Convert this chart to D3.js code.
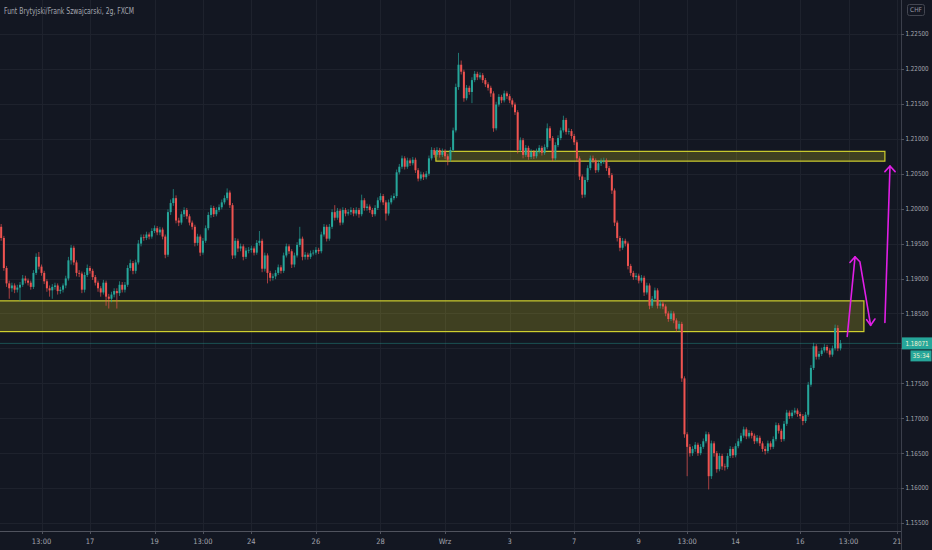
<!DOCTYPE html>
<html>
<head>
<meta charset="utf-8">
<script src="https://cdn.jsdelivr.net/npm/d3@7"></script>
<style>
  html, body { margin: 0; padding: 0; background: #131722; }
  svg { display: block; }
  text { font-family: "Liberation Sans Narrow", "DejaVu Sans Condensed", "Roboto", sans-serif; }
</style>
</head>
<body>
<div id="chart"></div>
<script>
// GBP/CHF 2h candles, 12 Aug - 18 Sep (FXCM). open of each bar = previous close
const firstBar = 3;
const firstOpen = 1.1974;

const closes = [
  1.1958,1.1915,1.1893,1.1886,1.1890,1.1884,1.1887,1.1891,1.1900,1.1897,
  1.1894,1.1888,1.1908,1.1931,1.1917,1.1908,1.1896,1.1886,1.1883,1.1888,
  1.1890,1.1882,1.1884,1.1890,1.1900,1.1926,1.1944,1.1923,1.1908,1.1907,
  1.1884,1.1905,1.1915,1.1911,1.1902,1.1894,1.1886,1.1880,1.1894,1.1874,
  1.1871,1.1877,1.1882,1.1879,1.1891,1.1884,1.1891,1.1915,1.1922,1.1911,
  1.1923,1.1950,1.1959,1.1958,1.1963,1.1960,1.1968,1.1972,1.1966,1.1970,
  1.1960,1.1934,1.1995,1.2008,1.2015,1.1983,1.1980,1.1992,1.1998,1.1989,
  1.1980,1.1974,1.1951,1.1960,1.1937,1.1954,1.1972,1.1991,1.2001,1.1992,
  1.1998,1.2002,1.2009,1.2015,1.2023,1.2005,1.1933,1.1954,1.1943,1.1946,
  1.1931,1.1940,1.1941,1.1943,1.1937,1.1951,1.1954,1.1914,1.1933,1.1908,
  1.1901,1.1903,1.1908,1.1916,1.1911,1.1933,1.1946,1.1939,1.1920,1.1933,
  1.1948,1.1957,1.1931,1.1934,1.1931,1.1936,1.1937,1.1941,1.1939,1.1963,
  1.1974,1.1957,1.1974,1.1995,1.1987,1.1997,1.1980,1.1998,1.1993,1.1995,
  1.1998,1.1993,1.1998,1.1992,1.2012,1.2001,1.2003,1.1998,1.1992,1.2001,
  1.2012,1.2018,1.2009,1.1993,1.2009,1.2015,1.2018,1.2052,1.2060,1.2072,
  1.2060,1.2069,1.2065,1.2070,1.2055,1.2043,1.2049,1.2045,1.2050,1.2072,
  1.2084,1.2077,1.2084,1.2077,1.2082,1.2075,1.2070,1.2084,1.2112,1.2174,
  1.2206,1.2196,1.2158,1.2173,1.2167,1.2184,1.2193,1.2188,1.2191,1.2184,
  1.2178,1.2173,1.2165,1.2115,1.2149,1.2160,1.2155,1.2165,1.2161,1.2155,
  1.2149,1.2138,1.2084,1.2098,1.2077,1.2087,1.2074,1.2081,1.2075,1.2082,
  1.2087,1.2080,1.2088,1.2115,1.2101,1.2072,1.2091,1.2101,1.2112,1.2127,
  1.2110,1.2111,1.2104,1.2095,1.2072,1.2046,1.2020,1.2041,1.2058,1.2072,
  1.2069,1.2055,1.2065,1.2068,1.2069,1.2058,1.2048,1.2026,1.1980,1.1958,
  1.1944,1.1954,1.1950,1.1918,1.1908,1.1902,1.1904,1.1897,1.1901,1.1880,
  1.1890,1.1861,1.1871,1.1883,1.1861,1.1864,1.1860,1.1850,1.1842,1.1850,
  1.1840,1.1828,1.1835,1.1757,1.1677,1.1659,1.1650,1.1656,1.1662,1.1650,
  1.1659,1.1667,1.1677,1.1617,1.1664,1.1650,1.1627,1.1646,1.1631,1.1630,
  1.1646,1.1656,1.1647,1.1660,1.1667,1.1675,1.1684,1.1674,1.1679,1.1675,
  1.1667,1.1672,1.1664,1.1656,1.1653,1.1664,1.1659,1.1670,1.1690,1.1682,
  1.1670,1.1692,1.1708,1.1703,1.1708,1.1711,1.1706,1.1703,1.1696,1.1705,
  1.1748,1.1772,1.1803,1.1788,1.1792,1.1797,1.1802,1.1797,1.1791,1.1800,
  1.1829,1.1800,1.18071
];

const highs = [
  1.1978,1.1961,1.1918,1.1897,1.1894,1.1893,1.1891,1.1895,1.1905,1.1904,
  1.1900,1.1897,1.1912,1.1936,1.1938,1.1920,1.1911,1.1899,1.1890,1.1892,
  1.1894,1.1893,1.1888,1.1893,1.1904,1.1931,1.1948,1.1947,1.1926,1.1912,
  1.1910,1.1909,1.1920,1.1918,1.1914,1.1905,1.1897,1.1889,1.1898,1.1897,
  1.1878,1.1881,1.1886,1.1886,1.1896,1.1895,1.1895,1.1919,1.1927,1.1925,
  1.1927,1.1955,1.1963,1.1963,1.1967,1.1966,1.1972,1.1976,1.1975,1.1974,
  1.1973,1.1963,1.1999,1.2013,1.2028,1.2019,1.1987,1.1996,1.2002,1.2001,
  1.1992,1.1983,1.1977,1.1964,1.1963,1.1958,1.1976,1.1995,1.2005,1.2004,
  1.2002,1.2006,1.2013,1.2019,1.2029,1.2026,1.2008,1.1958,1.1957,1.1950,
  1.1949,1.1944,1.1945,1.1947,1.1946,1.1955,1.1968,1.1957,1.1937,1.1936,
  1.1911,1.1907,1.1912,1.1920,1.1919,1.1937,1.1950,1.1949,1.1942,1.1937,
  1.1952,1.1974,1.1960,1.1938,1.1937,1.1940,1.1941,1.1945,1.1944,1.1967,
  1.1978,1.1977,1.1978,1.1999,1.2005,1.2001,1.2000,1.2002,1.2001,1.1999,
  1.2002,1.2001,1.2002,1.2001,1.2020,1.2015,1.2007,1.2006,1.2001,1.2005,
  1.2016,1.2022,1.2021,1.2012,1.2013,1.2019,1.2022,1.2056,1.2064,1.2076,
  1.2075,1.2073,1.2072,1.2074,1.2073,1.2058,1.2053,1.2052,1.2054,1.2076,
  1.2088,1.2087,1.2088,1.2087,1.2086,1.2085,1.2078,1.2088,1.2116,1.2179,
  1.2223,1.2212,1.2199,1.2177,1.2176,1.2188,1.2197,1.2196,1.2195,1.2194,
  1.2187,1.2181,1.2176,1.2168,1.2153,1.2164,1.2163,1.2169,1.2168,1.2164,
  1.2158,1.2152,1.2141,1.2102,1.2101,1.2091,1.2090,1.2085,1.2084,1.2086,
  1.2091,1.2090,1.2092,1.2122,1.2118,1.2104,1.2095,1.2105,1.2116,1.2133,
  1.2130,1.2115,1.2114,1.2107,1.2098,1.2075,1.2049,1.2045,1.2062,1.2076,
  1.2076,1.2072,1.2069,1.2072,1.2073,1.2072,1.2061,1.2051,1.2029,1.1983,
  1.1961,1.1958,1.1957,1.1953,1.1921,1.1911,1.1908,1.1907,1.1905,1.1904,
  1.1894,1.1893,1.1875,1.1887,1.1886,1.1868,1.1867,1.1863,1.1853,1.1854,
  1.1853,1.1843,1.1839,1.1838,1.1760,1.1680,1.1663,1.1660,1.1666,1.1665,
  1.1663,1.1671,1.1681,1.1680,1.1668,1.1667,1.1653,1.1650,1.1649,1.1635,
  1.1650,1.1660,1.1659,1.1664,1.1671,1.1679,1.1688,1.1687,1.1683,1.1682,
  1.1678,1.1676,1.1675,1.1667,1.1660,1.1668,1.1667,1.1674,1.1694,1.1693,
  1.1685,1.1696,1.1712,1.1711,1.1712,1.1715,1.1714,1.1709,1.1706,1.1709,
  1.1752,1.1776,1.1808,1.1806,1.1796,1.1801,1.1806,1.1805,1.1800,1.1804,
  1.1834,1.1833,1.1812
];

const lows = [
  1.1954,1.1911,1.1888,1.1871,1.1881,1.1879,1.1880,1.1868,1.1888,1.1893,
  1.1890,1.1884,1.1885,1.1905,1.1913,1.1904,1.1892,1.1881,1.1874,1.1871,
  1.1884,1.1877,1.1878,1.1880,1.1886,1.1897,1.1920,1.1919,1.1903,1.1902,
  1.1879,1.1880,1.1902,1.1907,1.1898,1.1890,1.1881,1.1874,1.1877,1.1861,
  1.1857,1.1866,1.1873,1.1857,1.1875,1.1880,1.1880,1.1888,1.1911,1.1906,
  1.1907,1.1920,1.1946,1.1954,1.1955,1.1956,1.1957,1.1965,1.1962,1.1962,
  1.1956,1.1929,1.1931,1.1991,1.2004,1.1979,1.1975,1.1977,1.1988,1.1985,
  1.1976,1.1970,1.1946,1.1947,1.1932,1.1934,1.1951,1.1969,1.1987,1.1988,
  1.1989,1.1995,1.1999,1.2006,1.2012,1.2001,1.1928,1.1929,1.1938,1.1939,
  1.1926,1.1928,1.1936,1.1937,1.1933,1.1934,1.1947,1.1909,1.1910,1.1893,
  1.1896,1.1897,1.1899,1.1905,1.1907,1.1908,1.1930,1.1935,1.1915,1.1916,
  1.1930,1.1945,1.1926,1.1927,1.1927,1.1928,1.1933,1.1934,1.1935,1.1936,
  1.1960,1.1953,1.1954,1.1971,1.1983,1.1984,1.1976,1.1977,1.1989,1.1990,
  1.1991,1.1989,1.1990,1.1987,1.1989,1.1997,1.1997,1.1994,1.1988,1.1989,
  1.1998,1.2009,1.2005,1.1983,1.1990,1.2006,1.2012,1.2015,1.2049,1.2057,
  1.2056,1.2057,1.2061,1.2062,1.2051,1.2039,1.2040,1.2041,1.2042,1.2047,
  1.2069,1.2073,1.2074,1.2073,1.2074,1.2071,1.2062,1.2067,1.2081,1.2109,
  1.2170,1.2192,1.2153,1.2155,1.2163,1.2151,1.2181,1.2184,1.2185,1.2180,
  1.2174,1.2169,1.2160,1.2110,1.2112,1.2146,1.2151,1.2152,1.2157,1.2151,
  1.2145,1.2134,1.2079,1.2081,1.2072,1.2074,1.2070,1.2071,1.2071,1.2072,
  1.2079,1.2076,1.2077,1.2085,1.2097,1.2068,1.2069,1.2088,1.2098,1.2109,
  1.2106,1.2106,1.2100,1.2091,1.2067,1.2041,1.2015,1.2016,1.2038,1.2055,
  1.2065,1.2051,1.2052,1.2061,1.2064,1.2054,1.2044,1.2021,1.1975,1.1953,
  1.1939,1.1941,1.1946,1.1913,1.1904,1.1898,1.1898,1.1893,1.1894,1.1875,
  1.1877,1.1856,1.1858,1.1868,1.1857,1.1857,1.1856,1.1846,1.1838,1.1839,
  1.1836,1.1824,1.1825,1.1752,1.1672,1.1617,1.1645,1.1646,1.1652,1.1646,
  1.1647,1.1656,1.1664,1.1598,1.1613,1.1645,1.1622,1.1624,1.1626,1.1625,
  1.1627,1.1643,1.1643,1.1644,1.1657,1.1664,1.1672,1.1670,1.1671,1.1671,
  1.1663,1.1664,1.1660,1.1652,1.1648,1.1650,1.1655,1.1656,1.1667,1.1678,
  1.1666,1.1667,1.1689,1.1699,1.1700,1.1705,1.1702,1.1699,1.1690,1.1693,
  1.1702,1.1745,1.1769,1.1784,1.1784,1.1789,1.1794,1.1793,1.1787,1.1788,
  1.1797,1.1796,1.1797
];

// time axis: bar index (2h bars, 12 per trading day) and label
const timeTickBars = [18, 36, 60, 78, 96, 120, 144, 168, 192, 216, 240, 258, 276, 300, 318, 336];
const timeTickLabels = ["13:00", "17", "19", "13:00", "24", "26", "28", "Wrz", "3", "7", "9", "13:00", "14", "16", "13:00", "21"];

const priceTicks = [1.155, 1.16, 1.165, 1.17, 1.175, 1.18, 1.185, 1.19, 1.195, 1.2, 1.205, 1.21, 1.215, 1.22, 1.225];

// drawn zones: [startBar, endBar, top, bottom]
const zones = [
  [164.6, 331.5, 1.2082, 1.2068],
  [-3, 323.7, 1.1868, 1.1824]
];

// hand drawn forecast arrows, points as [bar, price]
const arrows = [
  [[317.5, 1.1817], [320.4, 1.1931], [322.2, 1.1924], [326.2, 1.1833]],
  [[318.5, 1.1923], [320.4, 1.1931]],
  [[324.7, 1.1841], [326.2, 1.1833], [327.8, 1.1842]],
  [[331.5, 1.1837], [333.4, 1.2061]],
  [[331.5, 1.2053], [333.4, 1.2061], [335.3, 1.2053]]
];

const lastPrice = 1.18071;
const countdown = "35:34";
const title = "Funt Brytyjski/Frank Szwajcarski, 2g, FXCM";

const width = 932, height = 550;
const plotRight = 901, plotBottom = 531;
const up = "#26a69a", down = "#ef5350";

const svg = d3.select("#chart").append("svg")
  .attr("width", width)
  .attr("height", height)
  .style("background", "#131722");

const x = d3.scaleLinear().domain([0, 336]).range([-6.9, 897]);
const y = d3.scaleLinear().domain([1.155, 1.225]).range([523, 34]);

svg.append("defs").append("clipPath").attr("id", "plot")
  .append("rect").attr("x", 0).attr("y", 0).attr("width", plotRight).attr("height", plotBottom);

// grid
const grid = svg.append("g").attr("clip-path", "url(#plot)");
grid.selectAll(".hg").data(priceTicks).enter().append("line")
  .attr("x1", 0).attr("x2", plotRight)
  .attr("y1", d => Math.round(y(d)) + 0.5).attr("y2", d => Math.round(y(d)) + 0.5)
  .attr("stroke", "#1e222d");
grid.selectAll(".vg").data(timeTickBars).enter().append("line")
  .attr("y1", 0).attr("y2", plotBottom)
  .attr("x1", d => Math.round(x(d)) + 0.5).attr("x2", d => Math.round(x(d)) + 0.5)
  .attr("stroke", "#1e222d");

const plot = svg.append("g").attr("clip-path", "url(#plot)");

// zones
plot.selectAll(".zone").data(zones).enter().append("rect")
  .attr("x", d => x(d[0]))
  .attr("y", d => y(d[2]))
  .attr("width", d => x(d[1]) - x(d[0]))
  .attr("height", d => y(d[3]) - y(d[2]))
  .attr("fill", "rgba(222,214,30,0.22)")
  .attr("stroke", "#cfcf2e")
  .attr("stroke-width", 1.2);

// current price line
plot.append("line")
  .attr("x1", 0).attr("x2", plotRight)
  .attr("y1", y(lastPrice)).attr("y2", y(lastPrice))
  .attr("stroke", up).attr("stroke-opacity", 0.4);

// candles
const candles = closes.map((c, k) => ({
  bar: firstBar + k,
  open: k === 0 ? firstOpen : closes[k - 1],
  close: c,
  high: highs[k],
  low: lows[k]
}));

const cg = plot.selectAll(".candle").data(candles).enter().append("g");
cg.append("line")
  .attr("x1", d => x(d.bar)).attr("x2", d => x(d.bar))
  .attr("y1", d => y(d.high)).attr("y2", d => y(d.low))
  .attr("stroke", d => d.close >= d.open ? up : down)
  .attr("stroke-opacity", 0.75)
  .attr("stroke-width", 0.9);
cg.append("rect")
  .attr("x", d => x(d.bar) - 1)
  .attr("width", 2)
  .attr("y", d => y(Math.max(d.open, d.close)))
  .attr("height", d => Math.max(0.8, Math.abs(y(d.open) - y(d.close))))
  .attr("fill", d => d.close >= d.open ? up : down);

// arrows
const line = d3.line().x(d => x(d[0])).y(d => y(d[1]));
plot.selectAll(".arrow").data(arrows).enter().append("path")
  .attr("d", line)
  .attr("fill", "none")
  .attr("stroke", "#e11fe6")
  .attr("stroke-width", 1.6)
  .attr("stroke-linejoin", "round")
  .attr("stroke-linecap", "round");

// axes lines
svg.append("line").attr("x1", plotRight + 0.5).attr("x2", plotRight + 0.5)
  .attr("y1", 0).attr("y2", height).attr("stroke", "#3b3f4b");
svg.append("line").attr("x1", 0).attr("x2", plotRight)
  .attr("y1", plotBottom + 0.5).attr("y2", plotBottom + 0.5).attr("stroke", "#50535e");

// price axis, labels next to the last price badge are hidden under it
const ly = y(lastPrice);
const pa = svg.append("g");
pa.selectAll(".pt").data(priceTicks).enter().append("line")
  .attr("x1", plotRight).attr("x2", plotRight + 3)
  .attr("y1", d => Math.round(y(d)) + 0.5).attr("y2", d => Math.round(y(d)) + 0.5)
  .attr("stroke", "#50535e");
pa.selectAll(".pl").data(priceTicks.filter(d => y(d) < plotBottom - 4 && Math.abs(y(d) - ly) > 12)).enter().append("text")
  .attr("x", plotRight + 4.5)
  .attr("y", d => y(d))
  .attr("dy", "0.35em")
  .attr("font-size", 6.8)
  .attr("textLength", 23)
  .attr("lengthAdjust", "spacingAndGlyphs")
  .attr("fill", "#a3a6af")
  .text(d => d3.format(".5f")(d));

// time axis
const ta = svg.append("g");
ta.selectAll(".tt").data(timeTickBars).enter().append("line")
  .attr("x1", d => Math.round(x(d)) + 0.5).attr("x2", d => Math.round(x(d)) + 0.5)
  .attr("y1", plotBottom).attr("y2", plotBottom + 3)
  .attr("stroke", "#50535e");
ta.selectAll(".tl").data(timeTickBars).enter().append("text")
  .attr("x", d => x(d))
  .attr("y", 541.5)
  .attr("dy", "0.35em")
  .attr("text-anchor", "middle")
  .attr("font-size", 7.5)
  .attr("fill", "#a3a6af")
  .text((d, i) => timeTickLabels[i]);

// last price label + countdown
svg.append("rect").attr("x", plotRight + 1).attr("y", ly - 6).attr("width", width - plotRight - 1).attr("height", 12)
  .attr("fill", up);
svg.append("text").attr("x", plotRight + 4.5).attr("y", ly).attr("dy", "0.35em")
  .attr("font-size", 6.8).attr("textLength", 23).attr("lengthAdjust", "spacingAndGlyphs")
  .attr("fill", "#eef2d2").text(d3.format(".5f")(lastPrice));
svg.append("rect").attr("x", 910.5).attr("y", ly + 7).attr("width", 21).attr("height", 11)
  .attr("fill", up);
svg.append("text").attr("x", 921).attr("y", ly + 12.5).attr("dy", "0.35em").attr("text-anchor", "middle")
  .attr("font-size", 6.5).attr("fill", "#eef2d2").text(countdown);

// currency badge
svg.append("rect").attr("x", 907.5).attr("y", 4.5).attr("width", 17).attr("height", 11).attr("rx", 2)
  .attr("fill", "none").attr("stroke", "#434651");
svg.append("text").attr("x", 916).attr("y", 10).attr("dy", "0.35em").attr("text-anchor", "middle")
  .attr("font-size", 6.5).attr("fill", "#9598a1").text("CHF");

// title
svg.append("text").attr("x", 4).attr("y", 11).attr("dy", "0.35em")
  .attr("font-size", 8).attr("textLength", 130).attr("lengthAdjust", "spacingAndGlyphs")
  .attr("fill", "#a3a6af").text(title);
</script>
</body>
</html>
